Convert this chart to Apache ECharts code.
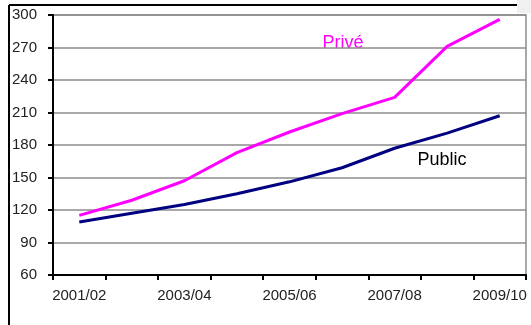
<!DOCTYPE html>
<html>
<head>
<meta charset="utf-8">
<script src="https://cdn.jsdelivr.net/npm/echarts@6/dist/echarts.min.js"></script>
<style>
html,body{margin:0;padding:0;background:#fff;}
#c{width:531px;height:325px;}
</style>
</head>
<body>
<div id="c"></div>
<script>
const categories = ['2001/02','2002/03','2003/04','2004/05','2005/06','2006/07','2007/08','2008/09','2009/10'];
const prive = [115, 129, 147, 173, 192, 209, 224, 271, 296];
const publicVals = [109, 117, 125, 135, 146, 159, 177, 191, 207];
const seriesNames = ['Privé', 'Public'];

const chart = echarts.init(document.getElementById('c'), null, {renderer:'canvas'});
const font = '"Liberation Sans", Arial, sans-serif';
chart.setOption({
  animation: false,
  backgroundColor: '#fff',
  grid: {left: 53, right: 5, top: 15, bottom: 50, show: true, borderColor: '#8c8c8c', borderWidth: 1.5},
  xAxis: {
    type: 'category', data: categories, boundaryGap: true,
    axisLine: {lineStyle: {color: '#000', width: 2}},
    axisTick: {show: true, interval: 0, length: 5, lineStyle: {color: '#000', width: 2}},
    axisLabel: {interval: 1, color: '#222', fontSize: 15, fontFamily: font, margin: 13},
    splitLine: {show: false}
  },
  yAxis: {
    type: 'value', min: 60, max: 300, interval: 30,
    axisLine: {show: true, lineStyle: {color: '#000', width: 2}},
    axisTick: {show: true, length: 5, lineStyle: {color: '#000', width: 2}},
    axisLabel: {color: '#222', fontSize: 15, fontFamily: font, margin: 16},
    splitLine: {show: true, lineStyle: {color: '#8c8c8c', width: 1.5}}
  },
  series: [
    {name: seriesNames[0], type: 'line', data: prive, symbol: 'none', lineStyle: {color: '#ff00ff', width: 3}, z: 3},
    {name: seriesNames[1], type: 'line', data: publicVals, symbol: 'none', lineStyle: {color: '#000080', width: 3}, z: 3}
  ],
  graphic: [
    {type: 'rect', shape: {x: 517, y: 0, width: 14, height: 13}, style: {fill: '#f0f0f0'}, silent: true},
    {type: 'line', shape: {x1: 9, y1: 5, x2: 517, y2: 5}, style: {stroke: '#000', lineWidth: 2}, silent: true},
    {type: 'line', shape: {x1: 9, y1: 5, x2: 9, y2: 325}, style: {stroke: '#000', lineWidth: 2}, silent: true},
    {type: 'text', x: 343, y: 43, style: {text: seriesNames[0], fill: '#ff00ff', font: '18px ' + font, align: 'center', verticalAlign: 'middle'}, silent: true},
    {type: 'text', x: 442, y: 160, style: {text: seriesNames[1], fill: '#000', font: '18px ' + font, align: 'center', verticalAlign: 'middle'}, silent: true}
  ]
});
</script>
</body>
</html>
